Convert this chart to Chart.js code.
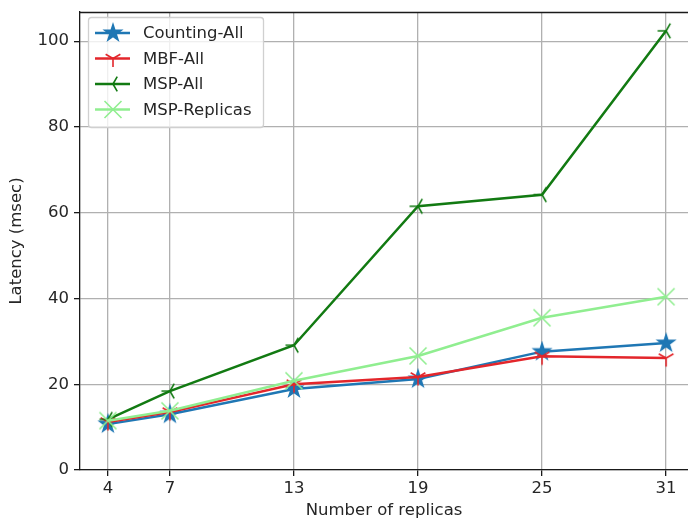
<!DOCTYPE html>
<html>
<head>
<meta charset="utf-8">
<script src="https://cdn.jsdelivr.net/npm/chart.js@4"></script>
<style>
  html, body { margin: 0; padding: 0; overflow: hidden; background: #fff; }
  #wrap { width: 688px; height: 521px; }
</style>
</head>
<body>
<div id="wrap"><canvas id="chart" width="688" height="521"></canvas></div>
<script>
// data
const replicas = [4, 7, 13, 19, 25, 31];
const countingAll = [10.7, 13.0, 18.9, 21.2, 27.6, 29.6];
const mbfAll = [11.2, 13.5, 20.0, 21.7, 26.5, 26.1];
const mspAll = [11.8, 18.4, 29.1, 61.5, 64.2, 102.4];
const mspReplicas = [11.5, 13.8, 20.8, 26.6, 35.5, 40.4];
const yTicks = [0, 20, 40, 60, 80, 100];
const seriesNames = ['Counting-All', 'MBF-All', 'MSP-All', 'MSP-Replicas'];

const FONT = 'DejaVu Sans';
const FSIZE = 16.5;
const TEXT = '#262626';
const MR = 8.5; // marker radius

// matplotlib-like marker shapes
function drawMarker(ctx, kind, color, cx, cy, r) {
    ctx.save();
    ctx.strokeStyle = color;
    ctx.fillStyle = color;
    ctx.lineWidth = 1.6;
    ctx.beginPath();
    if (kind === 'star') {
        for (let i = 0; i < 10; i++) {
            const a = -Math.PI / 2 + i * Math.PI / 5;
            const rr = i % 2 === 0 ? r : r * 0.382;
            const x = cx + rr * Math.cos(a), y = cy + rr * Math.sin(a);
            if (i === 0) ctx.moveTo(x, y); else ctx.lineTo(x, y);
        }
        ctx.closePath();
        ctx.fill();
        ctx.stroke();
    } else if (kind === 'tri_down' || kind === 'tri_left') {
        const base = kind === 'tri_down' ? Math.PI / 2 : Math.PI;
        for (let i = 0; i < 3; i++) {
            const a = base + i * 2 * Math.PI / 3;
            ctx.moveTo(cx, cy);
            ctx.lineTo(cx + r * Math.cos(a), cy + r * Math.sin(a));
        }
        ctx.stroke();
    } else if (kind === 'x') {
        const d = r;
        ctx.moveTo(cx - d, cy - d); ctx.lineTo(cx + d, cy + d);
        ctx.moveTo(cx - d, cy + d); ctx.lineTo(cx + d, cy - d);
        ctx.stroke();
    }
    ctx.restore();
}

function markerImage(kind, color) {
    const c = document.createElement('canvas');
    c.width = 22; c.height = 22;
    drawMarker(c.getContext('2d'), kind, color, 11, 11, MR);
    return c;
}

const colors = ['#1f77b4', '#e3262b', '#127a12', '#90ee90'];
const markers = ['star', 'tri_down', 'tri_left', 'x'];
const values = [countingAll, mbfAll, mspAll, mspReplicas];

const datasets = seriesNames.map((name, i) => ({
    label: name,
    data: replicas.map((x, j) => ({ x: x, y: values[i][j] })),
    borderColor: colors[i],
    backgroundColor: colors[i],
    borderWidth: 2.5,
    pointStyle: markerImage(markers[i], colors[i]),
    pointRadius: 8,
    tension: 0,
    order: 3 - i
}));

// top spine and legend box like matplotlib (the figure is cut before the right spine)
const framePlugin = {
    id: 'frame',
    afterDatasetsDraw(chart) {
        const { ctx, chartArea: a } = chart;
        ctx.save();
        ctx.strokeStyle = '#1a1a1a';
        ctx.lineWidth = 1.3;
        ctx.beginPath();
        ctx.moveTo(a.left, a.top + 0.5);
        ctx.lineTo(a.right, a.top + 0.5);
        ctx.stroke();

        // legend
        const lx = a.left + 8, ly = a.top + 5, lw = 175, lh = 110;
        ctx.beginPath();
        ctx.roundRect(lx + 0.5, ly + 0.5, lw, lh, 3);
        ctx.fillStyle = 'rgba(255,255,255,0.8)';
        ctx.fill();
        ctx.strokeStyle = '#d0d0d0';
        ctx.lineWidth = 1.3;
        ctx.stroke();
        ctx.font = FSIZE + 'px ' + FONT;
        ctx.textBaseline = 'middle';
        seriesNames.forEach((name, i) => {
            const y = ly + 16 + i * 25.5;
            ctx.strokeStyle = colors[i];
            ctx.lineWidth = 2.5;
            ctx.beginPath();
            ctx.moveTo(lx + 7, y);
            ctx.lineTo(lx + 42, y);
            ctx.stroke();
            drawMarker(ctx, markers[i], colors[i], lx + 25, y, MR);
            ctx.fillStyle = TEXT;
            ctx.fillText(name, lx + 55, y + 1);
        });
        ctx.restore();
    }
};

new Chart(document.getElementById('chart'), {
    type: 'line',
    data: { datasets: datasets },
    plugins: [framePlugin],
    options: {
        responsive: false,
        animation: false,
        layout: { autoPadding: false, padding: { top: 12, right: 0, left: 0, bottom: 0 } },
        plugins: {
            legend: { display: false },
            tooltip: { enabled: false }
        },
        scales: {
            x: {
                type: 'linear',
                min: 2.65,
                max: 32.06,
                afterBuildTicks: (s) => { s.ticks = replicas.map(v => ({ value: v })); },
                afterFit: (s) => { s.height = 51; s.paddingLeft = 0; s.paddingRight = 0; },
                grid: { color: '#b0b0b0', lineWidth: 1.3, tickColor: '#1a1a1a', tickLength: 6 },
                border: { display: true, color: '#1a1a1a', width: 1.3 },
                ticks: { color: TEXT, font: { family: FONT, size: FSIZE }, padding: 3, maxRotation: 0 },
                title: {
                    display: true,
                    text: 'Number of replicas',
                    color: TEXT,
                    font: { family: FONT, size: FSIZE },
                    padding: { top: 0, bottom: 0 }
                }
            },
            y: {
                type: 'linear',
                min: 0,
                max: 106.8,
                afterBuildTicks: (s) => { s.ticks = yTicks.map(v => ({ value: v })); },
                afterFit: (s) => { s.width = 80; s.paddingTop = 0; s.paddingBottom = 0; },
                grid: { color: '#b0b0b0', lineWidth: 1.3, tickColor: '#1a1a1a', tickLength: 6 },
                border: { display: true, color: '#1a1a1a', width: 1.3 },
                ticks: { color: TEXT, font: { family: FONT, size: FSIZE }, padding: 5 },
                title: {
                    display: true,
                    text: 'Latency (msec)',
                    color: TEXT,
                    font: { family: FONT, size: FSIZE },
                    padding: { top: 7, bottom: 0 }
                }
            }
        }
    }
});
</script>
</body>
</html>
